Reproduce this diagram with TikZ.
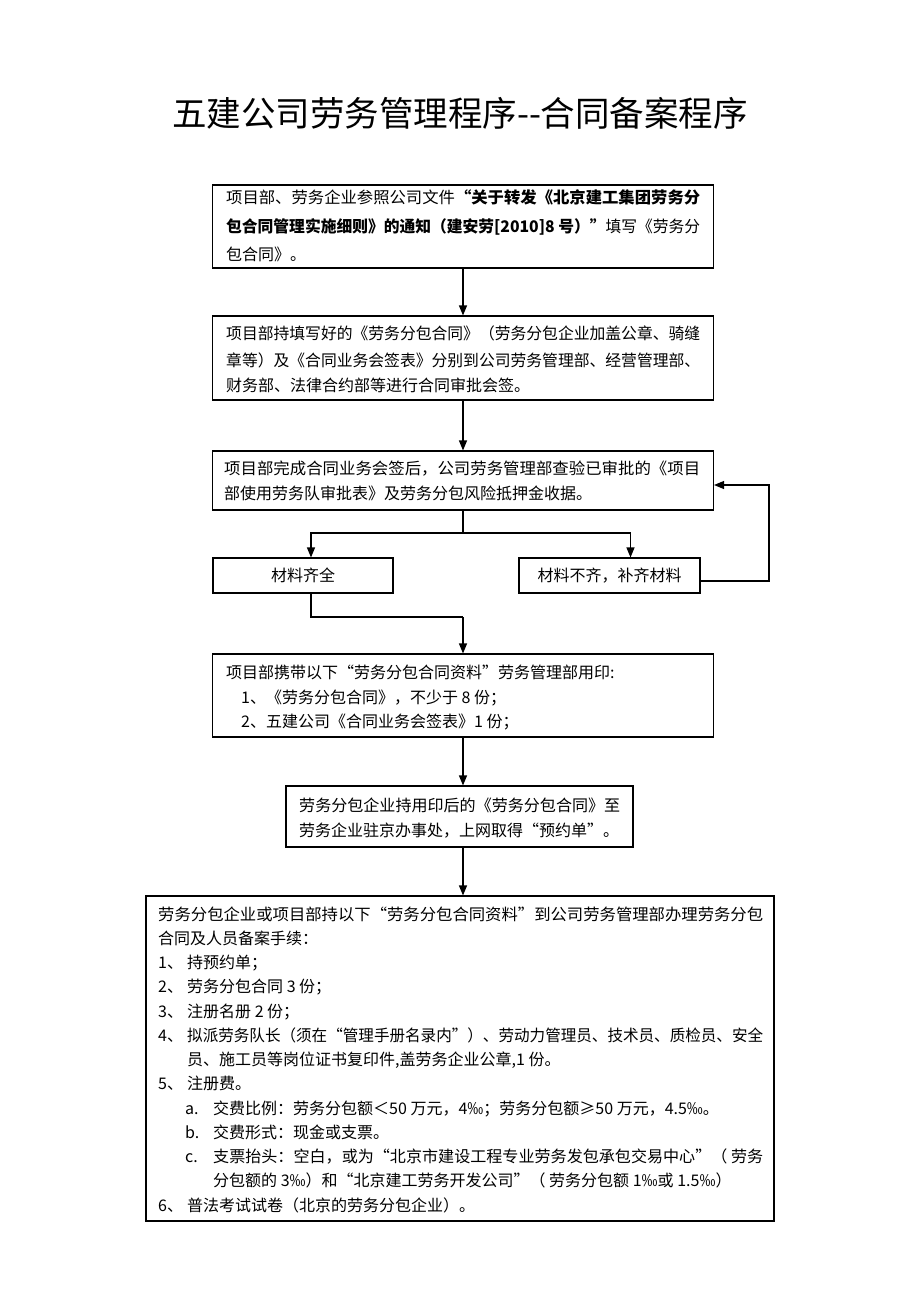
\documentclass[tikz,border=0pt]{standalone}
\usepackage{fontspec}
\usepackage{graphicx}
\setmainfont{Noto Sans CJK SC}
\usetikzlibrary{arrows.meta}
\newsavebox\myfitbox
\newcommand\fitto[2]{\sbox\myfitbox{#2}\scalebox{\fpeval{#1/\wd\myfitbox}}[1]{\usebox\myfitbox}}
\begin{document}
\begin{tikzpicture}[x=1pt,y=-1pt,
  box/.style={draw,line width=1.1pt,inner sep=0pt},
  ln/.style={line width=1.1pt},
  arr/.style={line width=1.1pt,-{Triangle[length=10pt,width=8pt]}},
  txt/.style={anchor=base west,inner sep=0pt,font=\fontsize{16}{16}\selectfont},
  ctxt/.style={inner sep=0pt,font=\fontsize{16}{16}\selectfont}]
\useasboundingbox (0,0) rectangle (920,1302);
\node[inner sep=0pt,font=\fontsize{34.5}{34.5}\selectfont] (title) at (460,113) {五建公司劳务管理程序{-}{-}合同备案程序};
% boxes
\node[box,minimum width=501pt,minimum height=83pt] (b1) at (463,226.5) {};
\node[box,minimum width=501pt,minimum height=84pt] (b2) at (463,358) {};
\node[box,minimum width=501pt,minimum height=59pt] (b3) at (463,480.5) {};
\node[box,minimum width=180pt,minimum height=35pt] (b4) at (303,575.5) {};
\node[box,minimum width=181pt,minimum height=35pt] (b5) at (609.5,575.5) {};
\node[box,minimum width=501pt,minimum height=83pt] (b6) at (463,695.5) {};
\node[box,minimum width=347pt,minimum height=61pt] (b7) at (459.5,816.5) {};
\node[box,minimum width=628pt,minimum height=325pt] (b8) at (460,1058.5) {};
% box 1 text
\node[txt] (t11) at (226,203) {\fitto{474}{项目部、劳务企业参照公司文件{\bfseries “关于转发《北京建工集团劳务分}}};
\node[txt] (t12) at (226,232) {\fitto{474}{{\bfseries 包合同管理实施细则》的通知（建安劳[2010]8 号）”}填写《劳务分}};
\node[txt] (t13) at (226,260) {包合同》。};
% box 2 text
\node[txt] (t21) at (226,339) {\fitto{474}{项目部持填写好的《劳务分包合同》（劳务分包企业加盖公章、骑缝}};
\node[txt] (t22) at (226,366) {\fitto{474}{章等）及《合同业务会签表》分别到公司劳务管理部、经营管理部、}};
\node[txt] (t23) at (226,391) {财务部、法律合约部等进行合同审批会签。};
% box 3 text
\node[txt] (t31) at (224,474) {\fitto{476}{项目部完成合同业务会签后，公司劳务管理部查验已审批的《项目}};
\node[txt] (t32) at (224,499) {部使用劳务队审批表》及劳务分包风险抵押金收据。};
% box 4,5 text
\node[ctxt] (t4) at (b4) {材料齐全};
\node[ctxt] (t5) at (b5) {材料不齐，补齐材料};
% box 6 text
\node[txt] (t61) at (226,678) {项目部携带以下“劳务分包合同资料”劳务管理部用印:};
\node[txt] (t62) at (241,703) {1、《劳务分包合同》，不少于 8 份；};
\node[txt] (t63) at (241,727) {2、五建公司《合同业务会签表》1 份；};
% box 7 text
\node[txt] (t71) at (299,811) {\fitto{321}{劳务分包企业持用印后的《劳务分包合同》至}};
\node[txt] (t72) at (299,836) {劳务企业驻京办事处，上网取得“预约单”。};
% box 8 text
\node[txt] (t801) at (158,920) {\fitto{605}{劳务分包企业或项目部持以下“劳务分包合同资料”到公司劳务管理部办理劳务分包}};
\node[txt] (t802) at (158,944.25) {合同及人员备案手续：};
\node[txt] (n803) at (158,968.5) {1、};
\node[txt] (t803) at (187,968.5) {持预约单；};
\node[txt] (n804) at (158,992.75) {2、};
\node[txt] (t804) at (187,992.75) {劳务分包合同 3 份；};
\node[txt] (n805) at (158,1017) {3、};
\node[txt] (t805) at (187,1017) {注册名册 2 份；};
\node[txt] (n806) at (158,1041.25) {4、};
\node[txt] (t806) at (187,1041.25) {\fitto{576}{拟派劳务队长（须在“管理手册名录内”）、劳动力管理员、技术员、质检员、安全}};
\node[txt] (t807) at (187,1065.5) {员、施工员等岗位证书复印件,盖劳务企业公章,1 份。};
\node[txt] (n808) at (158,1089.75) {5、};
\node[txt] (t808) at (187,1089.75) {注册费。};
\node[txt] (n809) at (185,1114) {a.};
\node[txt] (t809) at (213,1114) {交费比例：劳务分包额＜50 万元，4‰；劳务分包额≥50 万元，4.5‰。};
\node[txt] (n810) at (185,1138.25) {b.};
\node[txt] (t810) at (213,1138.25) {交费形式：现金或支票。};
\node[txt] (n811) at (185,1162.5) {c.};
\node[txt] (t811) at (213,1162.5) {\fitto{550}{支票抬头：空白，或为“北京市建设工程专业劳务发包承包交易中心”（ 劳务}};
\node[txt] (t812) at (213,1186.75) {分包额的 3‰）和“北京建工劳务开发公司”（ 劳务分包额 1‰或 1.5‰）};
\node[txt] (n813) at (158,1211) {6、};
\node[txt] (t813) at (187,1211) {普法考试试卷（北京的劳务分包企业）。};
% connectors
\draw[arr] (b1.south) -- (b2.north);
\draw[arr] (b2.south) -- (b3.north);
\coordinate (s1) at (463,533);
\draw[ln] (b3.south) -- (s1);
\draw[arr] (s1) -| ([xshift=8pt]b4.north);
\draw[arr] (s1) -| ([xshift=21pt]b5.north);
\coordinate (f1) at (769,581);
\coordinate (f2) at (769,485);
\draw[arr] (b5.east |- f1) -- (f1) -- (f2) -- (b3.east |- f2);
\coordinate (m1) at (311,617);
\coordinate (m2) at (463,617);
\draw[ln] (b4.south -| m1) -- (m1) -- (m2);
\draw[arr] (m2) -- (b6.north -| m2);
\draw[arr] (b6.south) -- (b6.south |- b7.north);
\draw[arr] (b6.south |- b7.south) -- (b6.south |- b8.north);
\end{tikzpicture}
\end{document}
